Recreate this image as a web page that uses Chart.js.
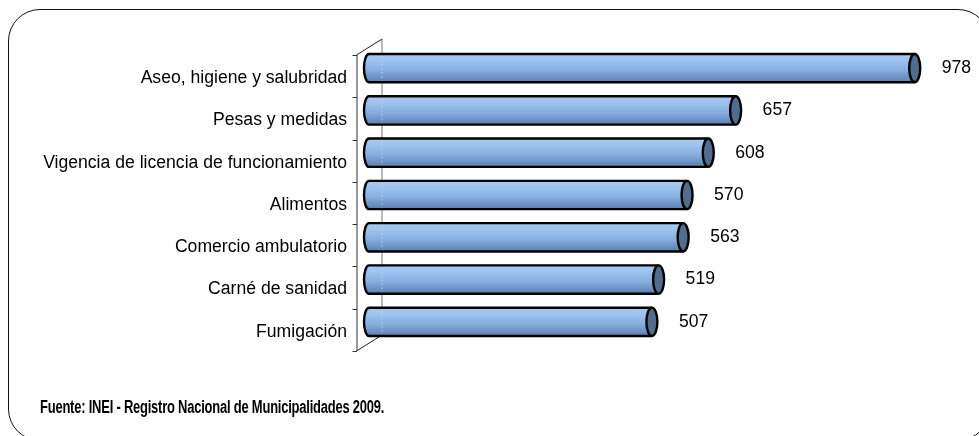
<!DOCTYPE html>
<html>
<head>
<meta charset="utf-8">
<script src="https://cdn.jsdelivr.net/npm/chart.js@4/dist/chart.umd.min.js"></script>
<style>
  html, body { margin:0; padding:0; background:#fff; overflow:hidden; }
  #wrap { position:relative; width:979px; height:436px; }
  #frame { position:absolute; left:8px; top:9px; width:982px; height:432px; border:1.5px solid #111; border-radius:32px; pointer-events:none; box-sizing:border-box; }
  #note { position:absolute; left:40px; top:397px; font-family:"Liberation Sans",Arial,sans-serif; font-weight:bold; font-size:18px; letter-spacing:-0.3px; color:#000; white-space:nowrap; transform:scaleX(0.72); transform-origin:0 0; }
  canvas { position:absolute; left:0; top:0; }
</style>
</head>
<body>
<div id="wrap">
  <canvas id="c" width="979" height="436"></canvas>
  <div id="frame"></div>
  <div id="note">Fuente: INEI - Registro Nacional de Municipalidades 2009.</div>
</div>
<script>
const categories = [
  "Aseo, higiene y salubridad",
  "Pesas y medidas",
  "Vigencia de licencia de funcionamiento",
  "Alimentos",
  "Comercio ambulatorio",
  "Carné de sanidad",
  "Fumigación"
];
const values = [978, 657, 608, 570, 563, 519, 507];
const axisMin = 0;
const axisMax = 1000;

const DEPTH_X = 12.5, DEPTH_Y = 8;
const FONT = '"Liberation Sans", Arial, sans-serif';

const cylinderPlugin = {
  id: 'cylinders',
  beforeDatasetsDraw(chart) {
    const ctx = chart.ctx, a = chart.chartArea;
    const fx = a.left - DEPTH_X, bx = a.left + DEPTH_X;
    ctx.save();
    ctx.strokeStyle = '#777';
    ctx.lineWidth = 1;
    ctx.beginPath();
    ctx.moveTo(bx + 0.5, a.top - DEPTH_Y);
    ctx.lineTo(bx + 0.5, a.bottom - DEPTH_Y);
    ctx.stroke();
    ctx.strokeStyle = '#222';
    ctx.beginPath();
    ctx.moveTo(fx, a.top + DEPTH_Y);
    ctx.lineTo(bx + 0.5, a.top - DEPTH_Y);
    ctx.moveTo(fx, a.bottom + DEPTH_Y);
    ctx.lineTo(bx + 0.5, a.bottom - DEPTH_Y);
    ctx.stroke();
    ctx.strokeStyle = '#333';
    ctx.beginPath();
    ctx.moveTo(fx + 0.5, a.top + DEPTH_Y);
    ctx.lineTo(fx + 0.5, a.bottom + DEPTH_Y);
    const n = chart.data.labels.length;
    const step = (a.bottom - a.top) / n;
    for (let i = 0; i <= n; i++) {
      const y = Math.round(a.top + DEPTH_Y + i * step) + 0.5;
      ctx.moveTo(fx - 4, y);
      ctx.lineTo(fx + 0.5, y);
    }
    ctx.stroke();
    ctx.restore();
  },
  afterDatasetsDraw(chart) {
    const ctx = chart.ctx, a = chart.chartArea;
    const meta = chart.getDatasetMeta(0);
    ctx.save();
    meta.data.forEach((bar, i) => {
      const p = bar.getProps(['x', 'y', 'base', 'height'], true);
      const h = p.height, top = p.y - h / 2, bot = p.y + h / 2;
      const rxL = 5, rxR = 5.5;
      const g = ctx.createLinearGradient(0, top, 0, bot);
      g.addColorStop(0, '#a6cbf3');
      g.addColorStop(0.25, '#9cc2ee');
      g.addColorStop(0.55, '#88b0e0');
      g.addColorStop(0.8, '#6f95c6');
      g.addColorStop(1, '#5b7fae');
      ctx.beginPath();
      ctx.moveTo(p.base, top);
      ctx.lineTo(p.x, top);
      ctx.lineTo(p.x, bot);
      ctx.lineTo(p.base, bot);
      ctx.ellipse(p.base, p.y, rxL, h / 2, 0, Math.PI / 2, Math.PI * 1.5);
      ctx.closePath();
      ctx.fillStyle = g;
      ctx.fill();
      ctx.strokeStyle = 'rgba(200,210,225,0.8)';
      ctx.lineWidth = 1;
      ctx.setLineDash([2, 2]);
      ctx.beginPath();
      ctx.moveTo(a.left + DEPTH_X + 0.5, top + 2);
      ctx.lineTo(a.left + DEPTH_X + 0.5, bot - 2);
      ctx.stroke();
      ctx.setLineDash([]);
      ctx.beginPath();
      ctx.moveTo(p.x, top);
      ctx.lineTo(p.base, top);
      ctx.ellipse(p.base, p.y, rxL, h / 2, 0, Math.PI * 1.5, Math.PI / 2, true);
      ctx.lineTo(p.x, bot);
      ctx.strokeStyle = '#000';
      ctx.lineWidth = 2.4;
      ctx.stroke();
      ctx.beginPath();
      ctx.ellipse(p.x, p.y, rxR, h / 2, 0, 0, Math.PI * 2);
      ctx.fillStyle = '#4f6d8f';
      ctx.fill();
      ctx.stroke();
      ctx.fillStyle = '#000';
      ctx.font = '17.6px ' + FONT;
      ctx.textAlign = 'left';
      ctx.textBaseline = 'middle';
      ctx.fillText(String(chart.data.datasets[0].data[i]), p.x + 27, p.y);
    });
    ctx.restore();
  }
};

new Chart(document.getElementById('c'), {
  type: 'bar',
  data: {
    labels: categories,
    datasets: [{
      data: values,
      backgroundColor: 'rgba(0,0,0,0)',
      borderWidth: 0,
      barPercentage: 0.67,
      categoryPercentage: 1
    }]
  },
  options: {
    indexAxis: 'y',
    responsive: false,
    animation: false,
    devicePixelRatio: 1,
    layout: { padding: { left: 0, right: 52, top: 47, bottom: 93 } },
    plugins: { legend: { display: false }, tooltip: { enabled: false } },
    scales: {
      x: { display: false, min: axisMin, max: axisMax },
      y: {
        afterFit(s) { s.width = 369; },
        border: { display: false },
        grid: { display: false, drawTicks: false },
        ticks: {
          padding: 22,
          labelOffset: 10,
          color: '#000',
          font: { family: FONT, size: 17.6 }
        }
      }
    }
  },
  plugins: [cylinderPlugin]
});
</script>
</body>
</html>
